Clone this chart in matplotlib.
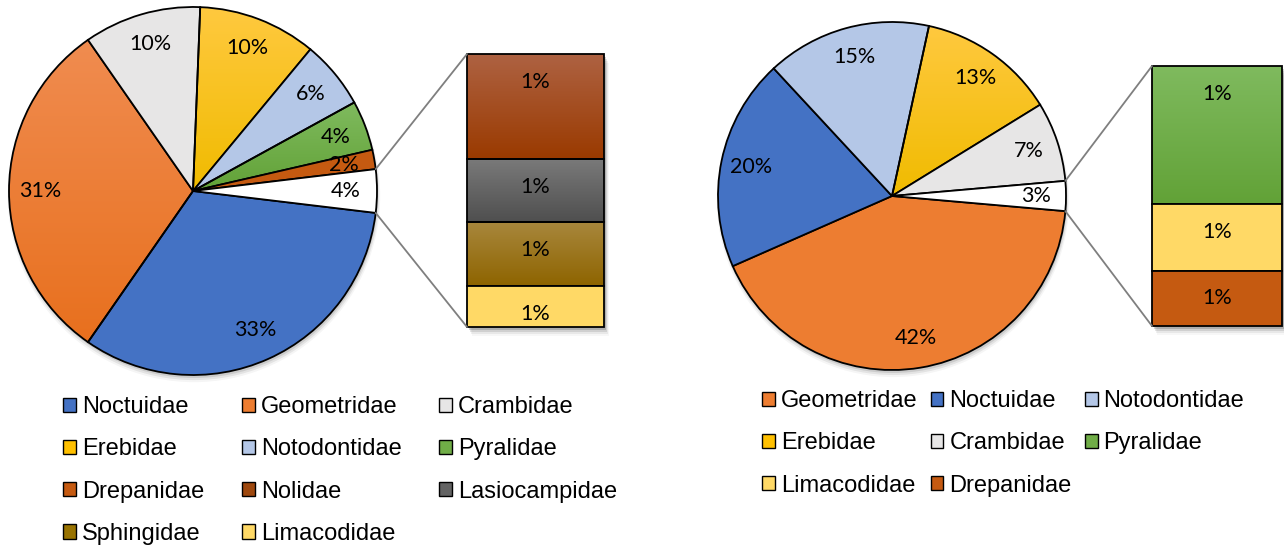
import numpy as np
import matplotlib
matplotlib.use("Agg")
import matplotlib.pyplot as plt
import matplotlib.transforms as mtransforms
from matplotlib.colors import to_rgb
from matplotlib.patches import Patch, Rectangle, Circle, ConnectionPatch

# ---- data (percent of specimens) ----
left_pie_names = ["Noctuidae", "Geometridae", "Crambidae", "Erebidae",
                  "Notodontidae", "Pyralidae", "Drepanidae"]
left_pie_values = [32.8, 30.7, 10.3, 10.4, 6.0, 4.4, 1.7]
left_bar_names = ["Nolidae", "Lasiocampidae", "Sphingidae", "Limacodidae"]
left_bar_values = [1.46, 0.88, 0.89, 0.57]

right_pie_names = ["Geometridae", "Noctuidae", "Notodontidae", "Erebidae",
                   "Crambidae"]
right_pie_values = [42.0, 19.7, 15.3, 12.8, 7.4]
right_bar_names = ["Pyralidae", "Limacodidae", "Drepanidae"]
right_bar_values = [1.47, 0.71, 0.59]

# ---- colours: (top of gradient, bottom of gradient) ----
colors = {
    "Noctuidae": ("#4472C4", "#4472C4"),
    "Geometridae": ("#F08C50", "#E8701E"),
    "Crambidae": ("#E7E6E6", "#E7E6E6"),
    "Erebidae": ("#FFC93F", "#F0BB00"),
    "Notodontidae": ("#B4C7E7", "#B4C7E7"),
    "Pyralidae": ("#7FBA5E", "#62A237"),
    "Drepanidae": ("#C55A11", "#C55A11"),
    "Nolidae": ("#AE6242", "#9A3A00"),
    "Lasiocampidae": ("#7A7A7A", "#4F4F4F"),
    "Sphingidae": ("#A8873C", "#8E6400"),
    "Limacodidae": ("#FFD966", "#FFD966"),
    "Other": ("#FFFFFF", "#FFFFFF"),
}
legend_colors = {
    "Noctuidae": "#4472C4", "Geometridae": "#ED7D31", "Crambidae": "#E7E6E6",
    "Erebidae": "#FFC000", "Notodontidae": "#B4C7E7", "Pyralidae": "#70AD47",
    "Drepanidae": "#C55A11", "Nolidae": "#9E480E", "Lasiocampidae": "#636363",
    "Sphingidae": "#997300", "Limacodidae": "#FFD966",
}
right_geo = ("#ED7D31", "#ED7D31")

W, H = 1284, 546
fig = plt.figure(figsize=(W / 100, H / 100), dpi=100)
LABEL_FONT = dict(family=["Lato", "DejaVu Sans"], fontsize=15.5, color="black")


def px_axes(x0, y0, x1, y1):
    return fig.add_axes([x0 / W, 1 - y1 / H, (x1 - x0) / W, (y1 - y0) / H])


def gradient_fill(ax, patch, top, bottom):
    bb = patch.get_extents().transformed(ax.transData.inverted())
    t = np.linspace(0, 1, 80)[:, None, None]
    img = (1 - t) * np.array(to_rgb(top)) + t * np.array(to_rgb(bottom))
    im = ax.imshow(img, extent=(bb.x0, bb.x1, bb.y0, bb.y1), origin="upper",
                   aspect="auto", zorder=0.5, interpolation="bilinear")
    im.set_clip_path(patch)


def draw_pie(cx, cy, r, names, values, other, geo_override=None):
    pad = 1.1
    ax = px_axes(cx - r * pad, cy - r * pad, cx + r * pad, cy + r * pad)
    vals = list(values) + [other]
    keys = list(names) + ["Other"]
    cols = []
    for k in keys:
        c = colors[k]
        if k == "Geometridae" and geo_override:
            c = geo_override
        cols.append(c)
    frac = other / sum(vals)
    wedges, texts, autotexts = ax.pie(
        vals, colors=[c[0] for c in cols], startangle=-frac * 180,
        counterclock=False, autopct="%.0f%%", pctdistance=0.83,
        wedgeprops=dict(edgecolor="black", linewidth=1.3),
        textprops=LABEL_FONT)
    ax.set_xlim(-pad, pad)
    ax.set_ylim(-pad, pad)
    for w, c in zip(wedges, cols):
        if c[0] != c[1]:
            w.set_facecolor("none")
            gradient_fill(ax, w, c[0], c[1])
    # soft drop shadow
    for i, a in enumerate([0.10, 0.07, 0.04]):
        tr = mtransforms.offset_copy(ax.transData, fig, x=1, y=-3 - i,
                                     units="dots")
        ax.add_patch(Circle((0, 0), 1.0 + 0.006 * i, color="black", alpha=a,
                            lw=0, transform=tr, zorder=0.1, clip_on=False))
    ax.set_xlim(-pad, pad)
    ax.set_ylim(-pad, pad)
    ax.set_aspect("equal")
    ax.axis("off")
    return ax, np.deg2rad(frac * 180)


def draw_bar(x0, y0, x1, y1, names, values):
    ax = px_axes(x0, y0, x1, y1)
    total = sum(values)
    ax.set_xlim(-0.5, 0.5)
    ax.set_ylim(0, total)
    tops = np.cumsum(values[::-1])[::-1]
    bottoms = tops - np.array(values)
    bars = ax.bar([0] * len(values), values, bottom=bottoms, width=1,
                  color=[colors[n][0] for n in names], edgecolor="black",
                  linewidth=1.3, zorder=1, clip_on=False)
    for b, n in zip(bars, names):
        if colors[n][0] != colors[n][1]:
            b.set_facecolor("none")
            gradient_fill(ax, b, colors[n][0], colors[n][1])
    for v, top in zip(values, tops):
        ax.annotate(f"{v:.0f}%", xy=(0, top),
                    xytext=(0, -20), textcoords="offset points",
                    ha="center", va="center", **LABEL_FONT)
    for i, a in enumerate([0.16, 0.10, 0.06, 0.03]):
        tr = mtransforms.offset_copy(ax.transData, fig, x=2 + i, y=-3 - 2 * i,
                                     units="dots")
        ax.add_patch(Rectangle((-0.5, 0), 1, total, color="black", alpha=a,
                               lw=0, transform=tr, zorder=0.1, clip_on=False))
    ax.set_xlim(-0.5, 0.5)
    ax.set_ylim(0, total)
    ax.axis("off")
    return ax, total


def connect(pie_ax, ang, bar_ax, total):
    for sgn, yb in [(1, total), (-1, 0)]:
        con = ConnectionPatch(xyA=(np.cos(ang), sgn * np.sin(ang)),
                              coordsA=pie_ax.transData,
                              xyB=(-0.5, yb), coordsB=bar_ax.transData,
                              color="#7F7F7F", lw=1.3, zorder=0.05)
        fig.add_artist(con)


def add_legend(names, x, y, colspacing):
    ncol = 3
    nrows = int(np.ceil(len(names) / ncol))
    order = [r * ncol + c for c in range(ncol) for r in range(nrows)
             if r * ncol + c < len(names)]
    handles = [Patch(facecolor=legend_colors[names[i]], edgecolor="black",
                     linewidth=1.0, label=names[i]) for i in order]
    fig.legend(handles=handles, loc="upper left",
               bbox_to_anchor=(x / W, 1 - y / H), ncol=ncol, frameon=False,
               borderpad=0, borderaxespad=0, handlelength=0.55,
               handleheight=0.55, handletextpad=0.25, labelspacing=0.86,
               columnspacing=colspacing,
               prop=dict(family=["Liberation Sans", "DejaVu Sans"], size=17))


# left chart
pie_l, ang_l = draw_pie(193, 191, 184, left_pie_names, left_pie_values,
                        sum(left_bar_values))
bar_l, tot_l = draw_bar(467, 54, 604, 327, left_bar_names, left_bar_values)
connect(pie_l, ang_l, bar_l, tot_l)
add_legend(left_pie_names + left_bar_names, 63, 396, 1.6)

# right chart
pie_r, ang_r = draw_pie(892, 196, 174, right_pie_names, right_pie_values,
                        sum(right_bar_values), geo_override=right_geo)
bar_r, tot_r = draw_bar(1152, 66, 1282, 326, right_bar_names, right_bar_values)
connect(pie_r, ang_r, bar_r, tot_r)
add_legend(right_pie_names + right_bar_names, 762, 390, 0.55)

fig.savefig("out.png", dpi=100, facecolor="white")
